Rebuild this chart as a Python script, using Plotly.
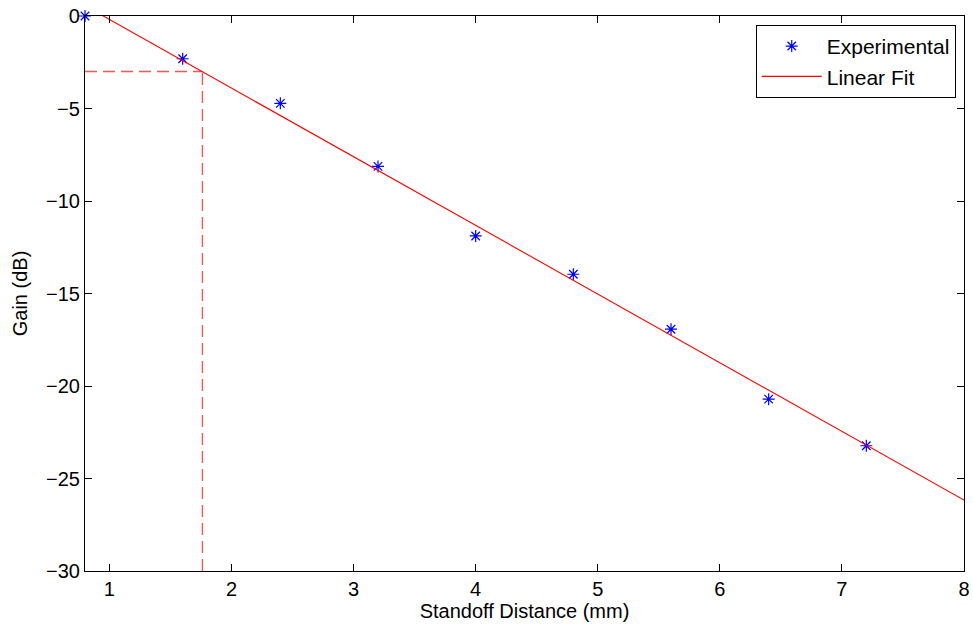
import plotly.graph_objects as go

# Data
distance_mm = [0.8, 1.6, 2.4, 3.2, 4.0, 4.8, 5.6, 6.4, 7.2]
gain_db = [0.0, -2.31, -4.72, -8.13, -11.89, -13.96, -16.93, -20.71, -23.23]

fit_x = [0.8, 8.0]
fit_slope = -3.711
fit_intercept = 3.525
fit_y = [fit_intercept + fit_slope * x for x in fit_x]

cut_x = 1.762
cut_y = -3.0
h_dash_x = [0.8, cut_x]
h_dash_y = [cut_y, cut_y]
v_dash_x = [cut_x, cut_x]
v_dash_y = [-30, cut_y]

x_ticks = [1, 2, 3, 4, 5, 6, 7, 8]
y_ticks = [0, -5, -10, -15, -20, -25, -30]
y_tick_text = ["0", "\u22125", "\u221210", "\u221215", "\u221220", "\u221225", "\u221230"]

FONT = "Liberation Sans, Arial, Helvetica, sans-serif"

fig = go.Figure()
fig.add_trace(go.Scatter(
    x=h_dash_x, y=h_dash_y, mode="lines", showlegend=False,
    line=dict(color="rgba(235,60,60,0.85)", width=1.4, dash="12px,6px"),
    hoverinfo="skip"))
fig.add_trace(go.Scatter(
    x=v_dash_x, y=v_dash_y, mode="lines", showlegend=False,
    line=dict(color="rgba(235,60,60,0.85)", width=1.4, dash="12px,6px"),
    hoverinfo="skip"))
fig.add_trace(go.Scatter(
    x=distance_mm, y=gain_db, mode="markers", name="Experimental",
    marker=dict(symbol="asterisk-open", size=10, color="blue",
                line=dict(color="blue", width=1.2)),
    cliponaxis=False))
fig.add_trace(go.Scatter(
    x=fit_x, y=fit_y, mode="lines", name="Linear Fit",
    line=dict(color="red", width=1.1)))

axis_common = dict(
    showline=True, linecolor="black", linewidth=1.2, mirror="ticks",
    ticks="inside", ticklen=7, tickwidth=1, tickcolor="black",
    showgrid=False, zeroline=False, automargin=False,
    tickfont=dict(family=FONT, size=20, color="black"),
)

fig.update_layout(
    width=973, height=628,
    margin=dict(l=85, r=9, t=16, b=57),
    plot_bgcolor="white", paper_bgcolor="white",
    font=dict(family=FONT, color="black"),
    xaxis=dict(range=[0.8, 8], tickvals=x_ticks,
               title=dict(text="Standoff Distance (mm)", font=dict(family=FONT, size=20), standoff=2),
               **axis_common),
    yaxis=dict(range=[-30, 0], tickvals=y_ticks, ticktext=y_tick_text,
               title=dict(text="Gain (dB)", font=dict(family=FONT, size=20), standoff=12),
               **axis_common),
    legend=dict(x=0.9906, y=0.984, xanchor="right", yanchor="top",
                bgcolor="white", bordercolor="black", borderwidth=1,
                font=dict(family=FONT, size=21, color="black"),
                tracegroupgap=0, itemwidth=60),
    showlegend=True,
)

fig.write_html("out.html", config={"displayModeBar": False},
               post_script="document.body.style.margin='0';document.body.style.overflow='hidden';")
